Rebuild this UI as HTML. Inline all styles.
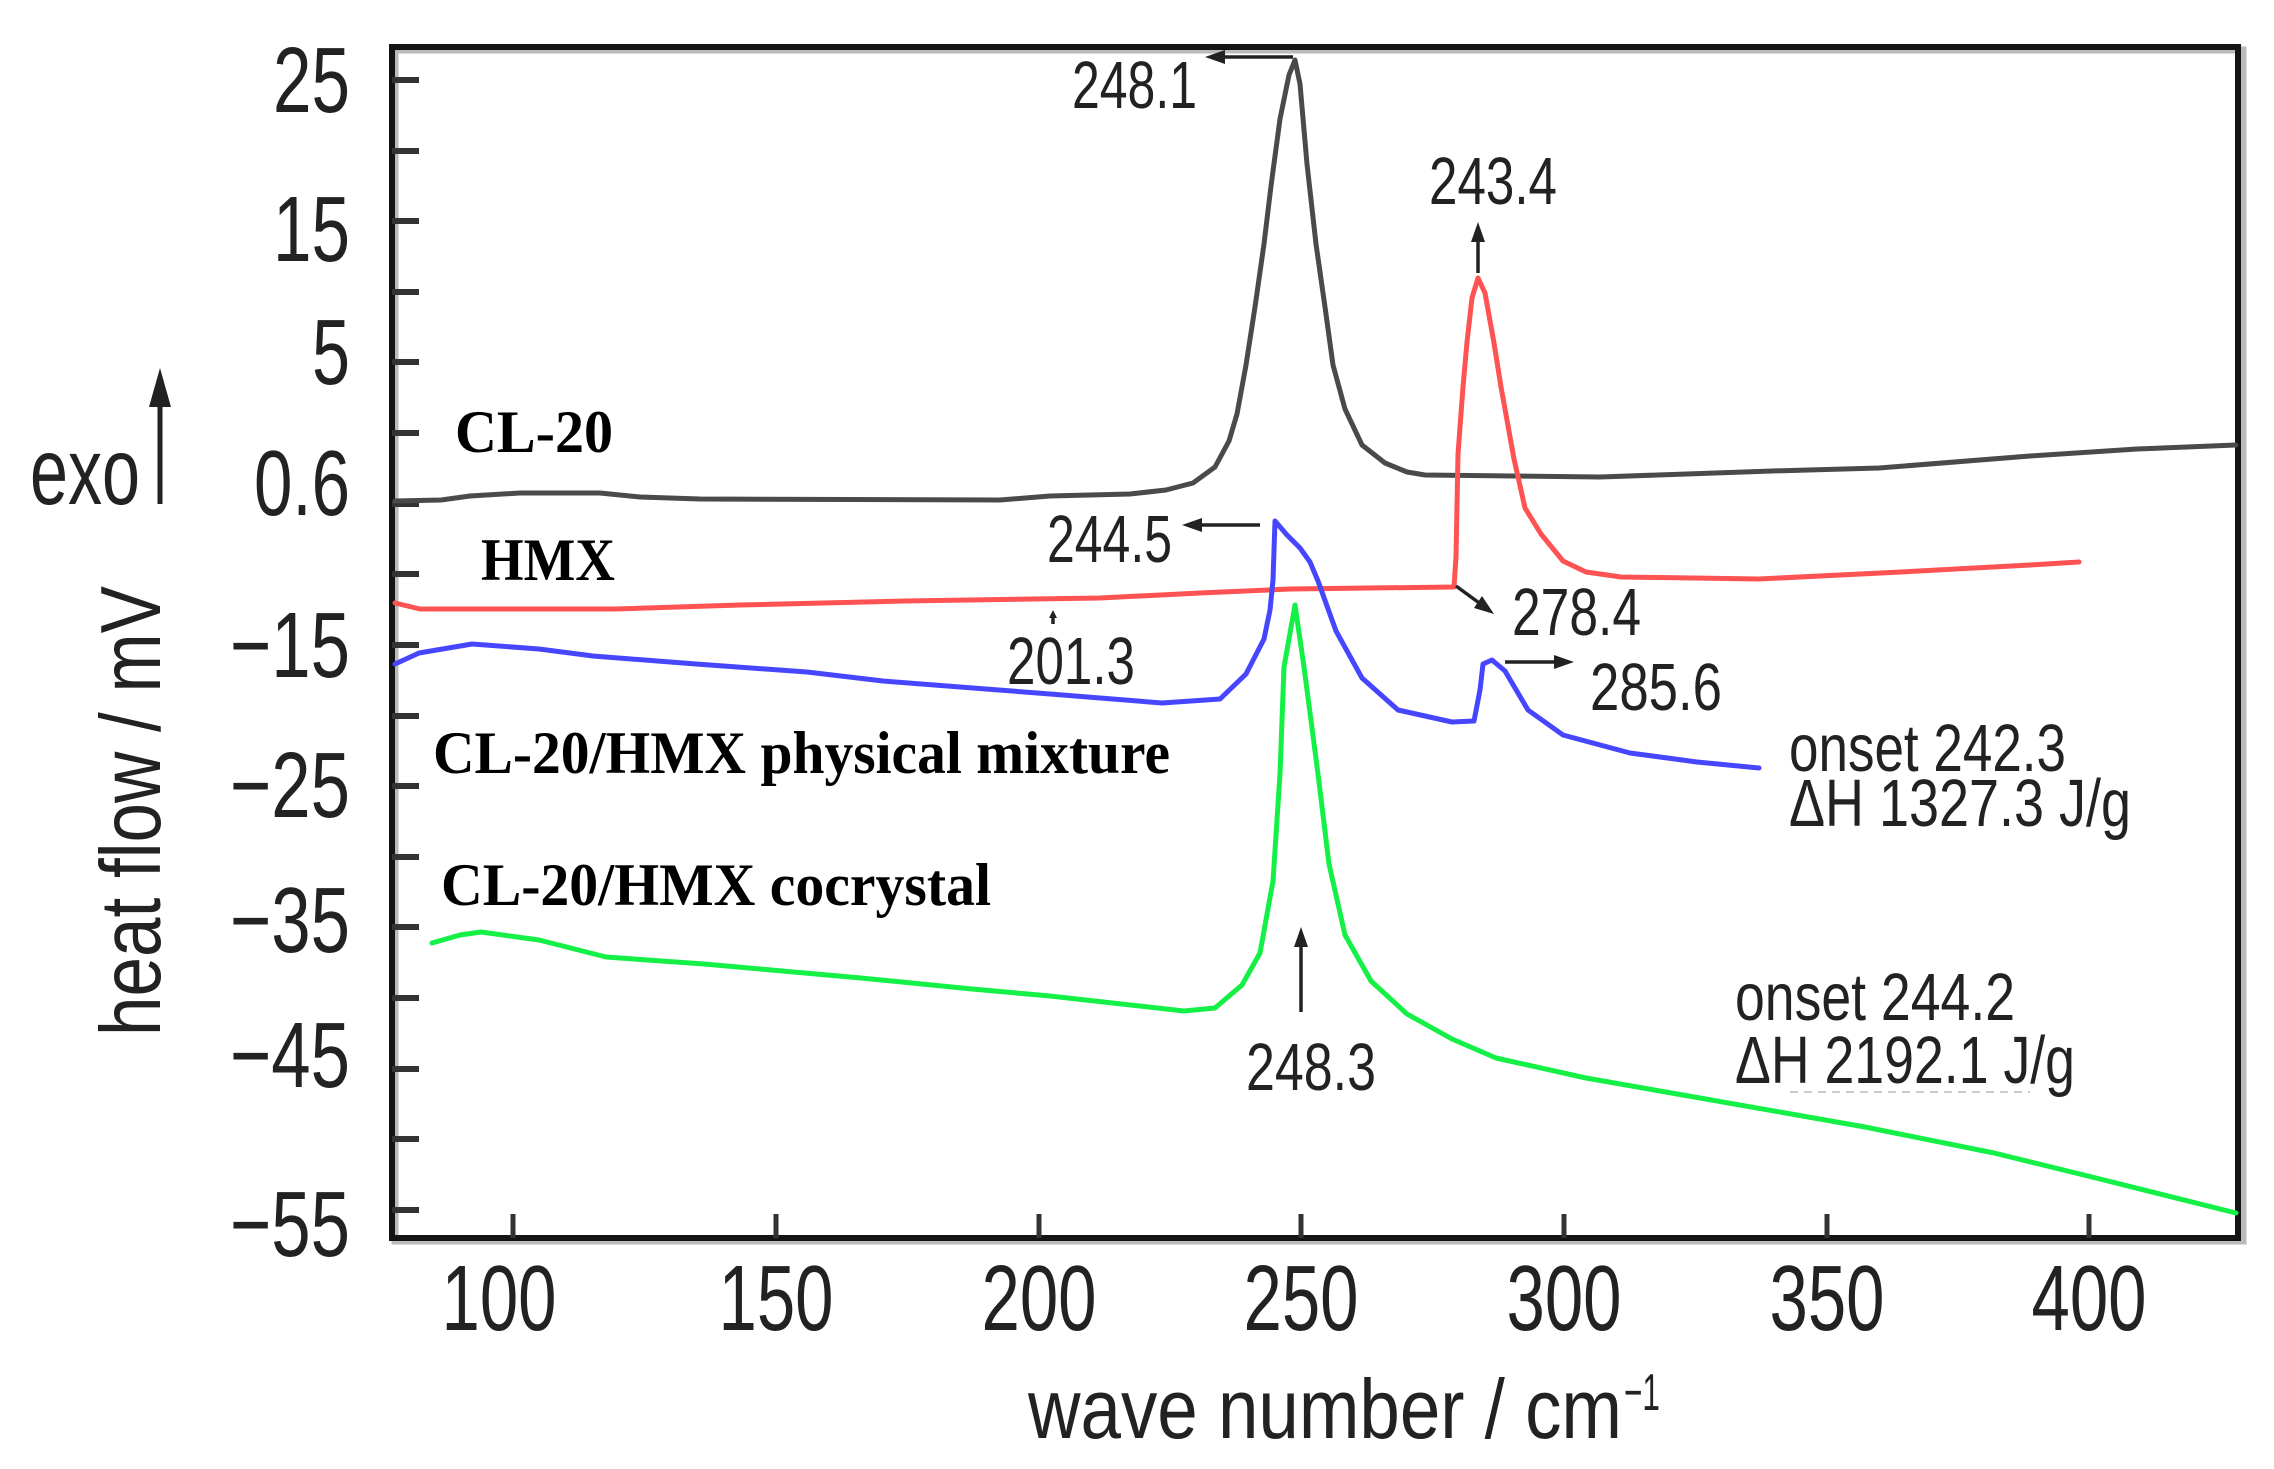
<!DOCTYPE html>
<html><head><meta charset="utf-8"><style>
html,body{margin:0;padding:0;background:#fff;}
svg{display:block;}
</style></head><body>
<svg width="2274" height="1469" viewBox="0 0 2274 1469" xmlns="http://www.w3.org/2000/svg">
<rect width="2274" height="1469" fill="#fff"/>
<!-- frame shadow -->
<rect x="395" y="50" width="1848" height="1191" fill="none" stroke="#bbb" stroke-width="7"/>
<rect x="392" y="47" width="1846" height="1191" fill="none" stroke="#141414" stroke-width="6"/>
<!-- y ticks -->
<g stroke="#333" stroke-width="6">
<line x1="392" y1="80" x2="419" y2="80"/><line x1="392" y1="151" x2="419" y2="151"/>
<line x1="392" y1="221" x2="419" y2="221"/><line x1="392" y1="292" x2="419" y2="292"/>
<line x1="392" y1="362" x2="419" y2="362"/><line x1="392" y1="433" x2="419" y2="433"/>
<line x1="392" y1="504" x2="419" y2="504"/><line x1="392" y1="574" x2="419" y2="574"/>
<line x1="392" y1="645" x2="419" y2="645"/><line x1="392" y1="716" x2="419" y2="716"/>
<line x1="392" y1="786" x2="419" y2="786"/><line x1="392" y1="857" x2="419" y2="857"/>
<line x1="392" y1="927" x2="419" y2="927"/><line x1="392" y1="998" x2="419" y2="998"/>
<line x1="392" y1="1069" x2="419" y2="1069"/><line x1="392" y1="1139" x2="419" y2="1139"/>
<line x1="392" y1="1210" x2="419" y2="1210"/>
</g>
<!-- x ticks -->
<g stroke="#333" stroke-width="5">
<line x1="513" y1="1238" x2="513" y2="1214"/><line x1="776" y1="1238" x2="776" y2="1214"/>
<line x1="1039" y1="1238" x2="1039" y2="1214"/><line x1="1301" y1="1238" x2="1301" y2="1214"/>
<line x1="1564" y1="1238" x2="1564" y2="1214"/><line x1="1827" y1="1238" x2="1827" y2="1214"/>
<line x1="2089" y1="1238" x2="2089" y2="1214"/>
</g>
<!-- y tick labels -->
<g font-family="Liberation Sans, Arial, sans-serif" font-size="93" fill="#222" text-anchor="end" lengthAdjust="spacingAndGlyphs">
<text x="350" y="112" textLength="77" lengthAdjust="spacingAndGlyphs">25</text>
<text x="350" y="261" textLength="77" lengthAdjust="spacingAndGlyphs">15</text>
<text x="350" y="384" textLength="38" lengthAdjust="spacingAndGlyphs">5</text>
<text x="350" y="515" textLength="96" lengthAdjust="spacingAndGlyphs">0.6</text>
<text x="350" y="677" textLength="120" lengthAdjust="spacingAndGlyphs">−15</text>
<text x="350" y="817" textLength="120" lengthAdjust="spacingAndGlyphs">−25</text>
<text x="350" y="952" textLength="120" lengthAdjust="spacingAndGlyphs">−35</text>
<text x="350" y="1087" textLength="120" lengthAdjust="spacingAndGlyphs">−45</text>
<text x="350" y="1256" textLength="120" lengthAdjust="spacingAndGlyphs">−55</text>
</g>
<!-- x tick labels -->
<g font-family="Liberation Sans, Arial, sans-serif" font-size="93" fill="#222" text-anchor="middle">
<text x="499" y="1330" textLength="115" lengthAdjust="spacingAndGlyphs">100</text>
<text x="776" y="1330" textLength="115" lengthAdjust="spacingAndGlyphs">150</text>
<text x="1039" y="1330" textLength="115" lengthAdjust="spacingAndGlyphs">200</text>
<text x="1301" y="1330" textLength="115" lengthAdjust="spacingAndGlyphs">250</text>
<text x="1564" y="1330" textLength="115" lengthAdjust="spacingAndGlyphs">300</text>
<text x="1827" y="1330" textLength="115" lengthAdjust="spacingAndGlyphs">350</text>
<text x="2089" y="1330" textLength="115" lengthAdjust="spacingAndGlyphs">400</text>
</g>
<!-- axis titles -->
<g font-family="Liberation Sans, Arial, sans-serif" fill="#222">
<text x="1028" y="1438" font-size="84" textLength="594" lengthAdjust="spacingAndGlyphs">wave number / cm</text>
<text x="1624" y="1410" font-size="52" textLength="36" lengthAdjust="spacingAndGlyphs">−1</text>
<text transform="translate(160,811) rotate(-90)" x="0" y="0" font-size="85" text-anchor="middle" textLength="450" lengthAdjust="spacingAndGlyphs">heat flow / mV</text>
<text x="30" y="504" font-size="95" textLength="110" lengthAdjust="spacingAndGlyphs">exo</text>
</g>
<line x1="160" y1="504" x2="160" y2="400" stroke="#222" stroke-width="5"/>
<polygon points="160,368 149,407 171,407" fill="#222"/>
<!-- curves -->
<g fill="none" stroke-width="5" stroke-linejoin="round" stroke-linecap="round">
<polyline stroke="#4a4a4a" points="395,501 441,500 470,496 520,493 600,493 640,497 700,499 1000,500 1050,496 1130,494 1166,490 1193,483 1215,467 1229,441 1237,414 1246,365 1255,307 1264,244 1271,186 1280,119 1289,75 1295,60 1300,84 1307,164 1316,244 1325,307 1333,365 1345,409 1362,445 1385,463 1407,472 1425,475 1600,477 1772,471 1879,468 2030,456 2137,449 2236,445"/>
<polyline stroke="#ff5252" points="395,603 420,609 615,609 740,605 905,601 1100,598 1200,593 1290,589 1454,587 1456,557 1458,454 1463,387 1467,342 1472,298 1478,278 1485,293 1494,343 1501,387 1505,409 1514,459 1525,508 1541,534 1563,561 1586,572 1621,577 1759,579 1901,572 2030,565 2079,562"/>
<polyline stroke="#4646ff" points="395,664 419,653 472,644 539,649 593,656 696,664 807,672 883,681 986,689 1050,694 1162,703 1220,699 1246,674 1264,639 1270,610 1273,580 1275,521 1287,535 1300,548 1310,562 1318,581 1336,631 1362,678 1398,710 1452,722 1474,721 1480,690 1483,664 1492,660 1505,671 1528,710 1563,735 1630,753 1697,762 1759,768"/>
<polyline stroke="#14f046" points="432,943 460,935 481,932 539,940 606,957 704,964 771,970 861,978 972,989 1050,996 1184,1011 1215,1008 1242,985 1260,953 1273,881 1280,774 1284,667 1295,605 1304,667 1318,774 1329,864 1345,935 1371,981 1407,1014 1452,1039 1496,1058 1586,1078 1700,1098 1865,1127 1994,1153 2092,1177 2236,1213"/>
</g>
<!-- series labels -->
<g font-family="Liberation Serif, Times New Roman, serif" font-weight="bold" font-size="60" fill="#000">
<text x="455" y="452" textLength="158" lengthAdjust="spacingAndGlyphs">CL-20</text>
<text x="481" y="580" textLength="134" lengthAdjust="spacingAndGlyphs">HMX</text>
<text x="433" y="773" textLength="737" lengthAdjust="spacingAndGlyphs">CL-20/HMX physical mixture</text>
<text x="441" y="905" textLength="550" lengthAdjust="spacingAndGlyphs">CL-20/HMX cocrystal</text>
</g>
<!-- annotations -->
<g font-family="Liberation Sans, Arial, sans-serif" font-size="67" fill="#222">
<text x="1072" y="108" textLength="125" lengthAdjust="spacingAndGlyphs">248.1</text>
<text x="1429" y="204" textLength="128" lengthAdjust="spacingAndGlyphs">243.4</text>
<text x="1047" y="562" textLength="125" lengthAdjust="spacingAndGlyphs">244.5</text>
<text x="1007" y="684" textLength="128" lengthAdjust="spacingAndGlyphs">201.3</text>
<text x="1512" y="635" textLength="129" lengthAdjust="spacingAndGlyphs">278.4</text>
<text x="1590" y="710" textLength="132" lengthAdjust="spacingAndGlyphs">285.6</text>
<text x="1246" y="1090" textLength="130" lengthAdjust="spacingAndGlyphs">248.3</text>
<text x="1789" y="771" textLength="277" lengthAdjust="spacingAndGlyphs">onset 242.3</text>
<text x="1789" y="826" textLength="342" lengthAdjust="spacingAndGlyphs">ΔH 1327.3 J/g</text>
<text x="1735" y="1020" textLength="280" lengthAdjust="spacingAndGlyphs">onset 244.2</text>
<text x="1735" y="1083" textLength="340" lengthAdjust="spacingAndGlyphs">ΔH 2192.1 J/g</text>
</g>
<line x1="1790" y1="1092" x2="2030" y2="1092" stroke="#ccc" stroke-width="2" stroke-dasharray="8,6"/>
<!-- arrows -->
<g stroke="#222" stroke-width="3.5" fill="none">
<line x1="1293" y1="57" x2="1222" y2="57"/>
<line x1="1478" y1="273" x2="1478" y2="240"/>
<line x1="1260" y1="525" x2="1200" y2="525"/>
<line x1="1456" y1="586" x2="1482" y2="605"/>
<line x1="1505" y1="662" x2="1556" y2="662"/>
<line x1="1301" y1="1012" x2="1301" y2="945"/>
<line x1="1053" y1="624" x2="1053" y2="616"/>
</g>
<g fill="#222">
<polygon points="1205,57 1225,50 1225,64"/>
<polygon points="1478,222 1471,242 1485,242"/>
<polygon points="1182,525 1202,518 1202,532"/>
<polygon points="1494,614 1474,608 1482,596"/>
<polygon points="1574,662 1554,655 1554,669"/>
<polygon points="1301,927 1294,947 1308,947"/>
<polygon points="1053,610 1049,618 1057,618"/>
</g>
</svg>
</body></html>
